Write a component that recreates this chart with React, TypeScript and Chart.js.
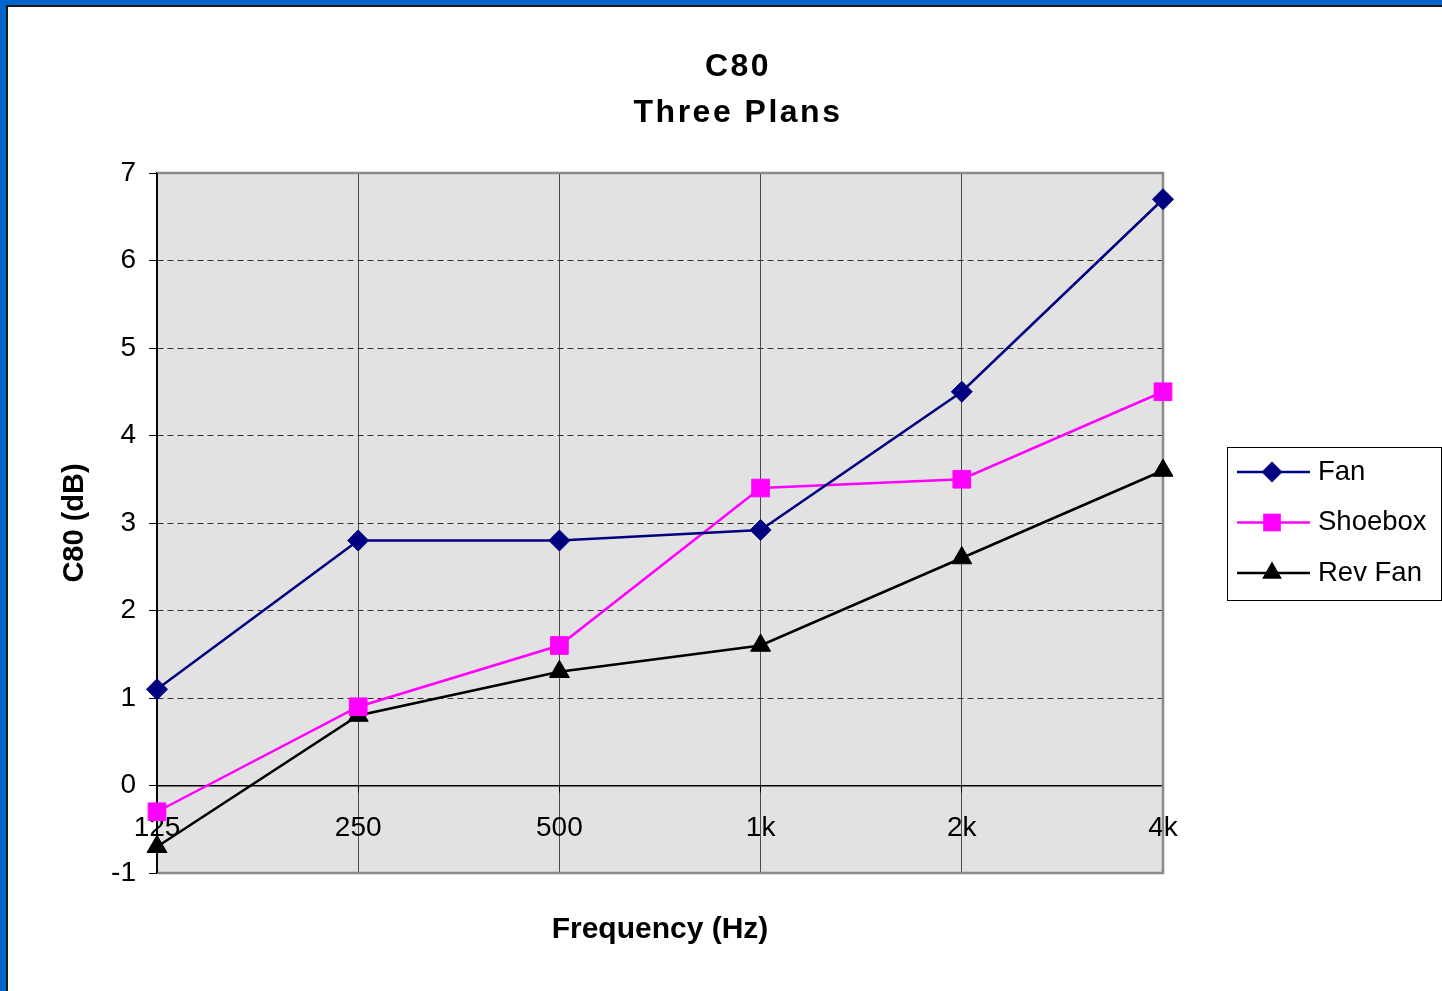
import React, { useEffect, useRef } from "react";
import { Chart, registerables } from "chart.js";

Chart.register(...registerables);

const categories = ["125", "250", "500", "1k", "2k", "4k"];
const fanValues = [1.1, 2.8, 2.8, 2.92, 4.5, 6.7];
const shoeboxValues = [-0.3, 0.9, 1.6, 3.4, 3.5, 4.5];
const revFanValues = [-0.7, 0.8, 1.3, 1.6, 2.6, 3.6];
const titleLines = ["C80", "Three Plans"];
const yTitle = "C80 (dB)";
const xTitle = "Frequency (Hz)";
const yMin = -1;
const yMax = 7;

const FONT = '"Liberation Sans", Arial, sans-serif';

const plotBgPlugin = {
  id: "plotBg",
  beforeDraw(chart: any) {
    const { ctx, chartArea: a } = chart;
    ctx.save();
    ctx.fillStyle = "#e2e2e2";
    ctx.fillRect(a.left, a.top, a.right - a.left, a.bottom - a.top);
    ctx.restore();
  },
  beforeDatasetsDraw(chart: any) {
    const { ctx, chartArea: a } = chart;
    ctx.save();
    ctx.setLineDash([]);
    ctx.strokeStyle = "#8a8a8a";
    ctx.lineWidth = 2.5;
    ctx.beginPath();
    ctx.moveTo(a.left, a.top);
    ctx.lineTo(a.right, a.top);
    ctx.lineTo(a.right, a.bottom);
    ctx.lineTo(a.left, a.bottom);
    ctx.stroke();
    ctx.strokeStyle = "#000";
    ctx.lineWidth = 1.5;
    ctx.beginPath();
    ctx.moveTo(a.left, a.top);
    ctx.lineTo(a.left, a.bottom);
    ctx.stroke();
    ctx.restore();
  },
};

function drawMarker(ctx: any, style: string, x: number, y: number, r: number, color: string) {
  ctx.fillStyle = color;
  ctx.beginPath();
  if (style === "rectRot") {
    ctx.moveTo(x, y - r);
    ctx.lineTo(x + r, y);
    ctx.lineTo(x, y + r);
    ctx.lineTo(x - r, y);
  } else if (style === "rect") {
    const s = r * Math.SQRT1_2;
    ctx.rect(x - s, y - s, 2 * s, 2 * s);
  } else {
    ctx.moveTo(x, y - r);
    ctx.lineTo(x + r * 0.866, y + r * 0.5);
    ctx.lineTo(x - r * 0.866, y + r * 0.5);
  }
  ctx.closePath();
  ctx.fill();
}

const titleLegendPlugin = {
  id: "titleLegend",
  afterDraw(chart: any) {
    const { ctx } = chart;
    ctx.save();
    // Title
    ctx.fillStyle = "#000";
    ctx.font = `bold 32px ${FONT}`;
    (ctx as any).letterSpacing = "2.5px";
    ctx.textAlign = "center";
    ctx.textBaseline = "middle";
    titleLines.forEach((t, i) => ctx.fillText(t, 738, 67 + i * 46));
    (ctx as any).letterSpacing = "0px";

    // Legend
    const bx = 1227, by = 447, bw = 214, bh = 153;
    ctx.fillStyle = "#fff";
    ctx.fillRect(bx, by, bw, bh);
    ctx.strokeStyle = "#000";
    ctx.lineWidth = 1;
    ctx.strokeRect(bx + 0.5, by + 0.5, bw, bh);
    ctx.font = `27.5px ${FONT}`;
    ctx.textAlign = "left";
    ctx.textBaseline = "middle";
    chart.data.datasets.forEach((ds: any, i: number) => {
      const y = 472 + i * 50.5;
      ctx.strokeStyle = ds.borderColor;
      ctx.lineWidth = ds.borderWidth;
      ctx.beginPath();
      ctx.moveTo(1237, y);
      ctx.lineTo(1310, y);
      ctx.stroke();
      drawMarker(ctx, ds.pointStyle, 1272, y, ds.pointRadius, ds.pointBackgroundColor);
      ctx.fillStyle = "#000";
      ctx.fillText(ds.label, 1318, y);
    });
    ctx.restore();
  },
};

export default function App() {
  const ref = useRef<HTMLCanvasElement>(null);
  useEffect(() => {
    if (!ref.current) return;
    const chart = new Chart(ref.current, {
      type: "line",
      data: {
        labels: categories,
        datasets: [
          {
            label: "Fan",
            data: fanValues,
            borderColor: "#000080",
            backgroundColor: "#000080",
            pointBackgroundColor: "#000080",
            pointBorderColor: "#000080",
            borderWidth: 2.5,
            pointStyle: "rectRot",
            pointRadius: 10.5,
            pointBorderWidth: 1,
          },
          {
            label: "Shoebox",
            data: shoeboxValues,
            borderColor: "#ff00ff",
            backgroundColor: "#ff00ff",
            pointBackgroundColor: "#ff00ff",
            pointBorderColor: "#ff00ff",
            borderWidth: 2.5,
            pointStyle: "rect",
            pointRadius: 12.5,
            pointBorderWidth: 1,
          },
          {
            label: "Rev Fan",
            data: revFanValues,
            borderColor: "#000000",
            backgroundColor: "#000000",
            pointBackgroundColor: "#000000",
            pointBorderColor: "#000000",
            borderWidth: 2.5,
            pointStyle: "triangle",
            pointRadius: 11.5,
            pointBorderWidth: 1,
          },
        ],
      },
      options: {
        responsive: false,
        animation: false,
        layout: { padding: { left: 0, top: 173, right: 279, bottom: 118 } },
        plugins: {
          legend: { display: false },
          title: { display: false },
          tooltip: { enabled: false },
        },
        scales: {
          x: {
            position: { y: 0 } as any,
            offset: false,
            grid: {
              color: "#4a4a4a",
              lineWidth: 1,
              tickLength: 6,
              tickColor: "#000",
            },
            border: { display: true, color: "#000", width: 1.5 },
            ticks: {
              color: "#000",
              font: { family: FONT, size: 28 },
              padding: 20,
              maxRotation: 0,
              autoSkip: false,
            },
            title: {
              display: true,
              text: xTitle,
              color: "#000",
              font: { family: FONT, size: 30, weight: "bold" },
              padding: { top: 47, bottom: 0 },
            },
          },
          y: {
            min: yMin,
            max: yMax,
            afterFit(scale: any) {
              scale.width = 157;
            },
            grid: {
              color: "#333",
              lineWidth: 1,
              tickBorderDash: [],
              tickColor: "#000",
              tickLength: 8,
            } as any,
            border: { display: true, color: "#000", width: 1.5, dash: [6, 4] },
            ticks: {
              stepSize: 1,
              color: "#000",
              font: { family: FONT, size: 28 },
              padding: 13,
            },
            title: {
              display: true,
              text: yTitle,
              color: "#000",
              font: { family: FONT, size: 29, weight: "bold" },
              padding: { top: 58, bottom: 0 },
            },
          },
        },
      },
      plugins: [plotBgPlugin, titleLegendPlugin],
    } as any);
    return () => chart.destroy();
  }, []);

  return (
    <div
      style={{
        position: "fixed",
        left: 0,
        top: 0,
        width: 1442,
        height: 991,
        background: "#0066cc",
        overflow: "hidden",
      }}
    >
      <div
        style={{
          position: "absolute",
          left: 6,
          top: 5,
          right: 0,
          bottom: 0,
          background: "#fff",
          borderLeft: "2px solid #1a1a1a",
          borderTop: "2px solid #1a1a1a",
        }}
      />
      <canvas
        ref={ref}
        width={1442}
        height={991}
        style={{ position: "absolute", left: 0, top: 0 }}
      />
    </div>
  );
}
